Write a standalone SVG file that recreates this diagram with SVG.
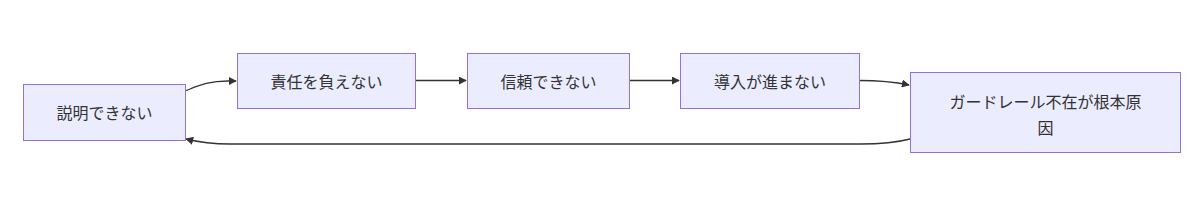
<svg xmlns="http://www.w3.org/2000/svg" width="1200" height="213" viewBox="0 0 1200 213">
<style>
.node rect{fill:#ECECFF;stroke:#9370DB;stroke-width:1}
.node text{font-family:"Noto Sans CJK JP","Noto Sans",sans-serif;font-size:16px;fill:#333;text-anchor:middle;dominant-baseline:central}
.edge{fill:none;stroke:#333;stroke-width:1.3}
</style>
<defs>
<marker id="arr" viewBox="0 0 10 10" refX="9" refY="5" markerWidth="8" markerHeight="8" markerUnits="userSpaceOnUse" orient="auto">
<path d="M0,0 L10,5 L0,10 z" fill="#333"/>
</marker>
</defs>
<rect width="1200" height="213" fill="#fff"/>
<g id="connectors">
<path class="edge" d="M185,91 C198,86 208,81 228,81 L236,81" marker-end="url(#arr)"/>
<path class="edge" d="M415,80.5 L466,80.5" marker-end="url(#arr)"/>
<path class="edge" d="M629,80.5 L679,80.5" marker-end="url(#arr)"/>
<path class="edge" d="M859,80.5 C880,80.5 895,82 909,85" marker-end="url(#arr)"/>
<path class="edge" d="M910,139 C895,143 880,144 860,144 L230,144 C208,144 198,142 186,139" marker-end="url(#arr)"/>
</g>
<g id="n1" class="node"><rect x="23.5" y="84.5" width="162" height="56"/><text x="104.5" y="112">説明できない</text></g>
<g id="n2" class="node"><rect x="237.5" y="53.5" width="178" height="55"/><text x="326.5" y="80.5">責任を負えない</text></g>
<g id="n3" class="node"><rect x="467.5" y="53.5" width="162" height="55"/><text x="548.5" y="80.5">信頼できない</text></g>
<g id="n4" class="node"><rect x="680.5" y="53.5" width="179" height="55"/><text x="770" y="80.5">導入が進まない</text></g>
<g id="n5" class="node"><rect x="910.5" y="72.5" width="270" height="80"/><text x="1045.5" y="101">ガードレール不在が根本原</text><text x="1045.5" y="127">因</text></g>
</svg>
